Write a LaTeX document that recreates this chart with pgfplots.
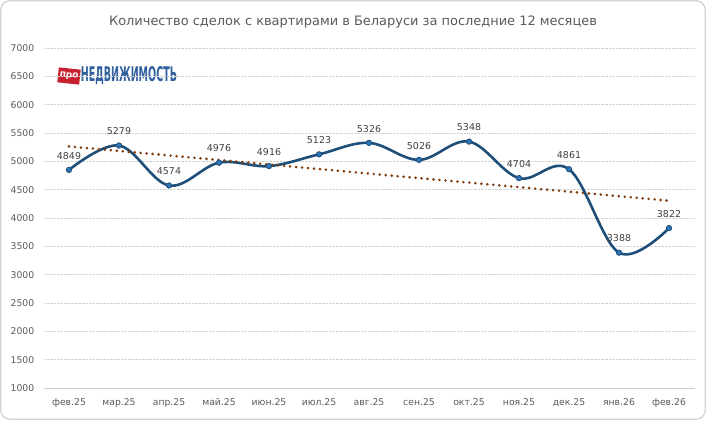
\documentclass[border=0pt]{standalone}
\usepackage{fontspec}
\setmainfont{DejaVu Sans}
\usepackage{graphicx}
\usepackage{pgfplots}
\pgfplotsset{compat=1.18}
\definecolor{lineblue}{HTML}{1F4E79}
\definecolor{markblue}{HTML}{2E75B6}
\definecolor{trendbrown}{HTML}{843C0C}
\definecolor{txtgray}{HTML}{595959}
\definecolor{lblgray}{HTML}{404040}
\definecolor{logored}{HTML}{C8202F}
\definecolor{logoblue}{HTML}{2F5F9E}
\begin{document}
\begin{tikzpicture}[x=1bp,y=1bp]
\useasboundingbox (0,0) rectangle (706,420);
\draw[rounded corners=9bp, draw=gray!35, line width=1.2bp] (0.8,0.8) rectangle (705.2,419.2);
\node[font=\fontsize{13}{15}\selectfont, text=txtgray] at (353,398) {Количество сделок с квартирами в Беларуси за последние 12 месяцев};
% logo
\node[fill=logored, rotate=-6, minimum width=22bp, minimum height=15bp, inner sep=0pt, text=white, font=\bfseries\fontsize{9}{10}\selectfont] at (69,344) {про};
\node[inner sep=0pt, text=logoblue] at (129,344) {\resizebox{96bp}{15bp}{\bfseries НЕДВИЖИМОСТЬ}};
\begin{axis}[
  at={(44bp,32bp)}, anchor=south west,
  scale only axis, width=650bp, height=340bp,
  xmin=-0.5, xmax=12.5, ymin=1000, ymax=7000,
  ytick={1000,1500,...,7000},
  xtick={0,...,12},
  xticklabels={фев.25,мар.25,апр.25,май.25,июн.25,июл.25,авг.25,сен.25,окт.25,ноя.25,дек.25,янв.26,фев.26},
  major x tick style={draw=none},
  extra x ticks={-0.5,0.5,...,12.5},
  extra x tick labels={},
  extra x tick style={major tick length=5bp, tick style={draw=gray!50, line width=0.8bp}, xmajorgrids=false},
  axis x line*=bottom, axis y line*=left,
  x axis line style={draw=gray!40, line width=1bp, -},
  y axis line style={draw=none},
  ytick style={draw=none},
  tick align=outside,
  ymajorgrids, grid style={densely dotted, gray!35, line width=0.6bp},
  tick label style={font=\fontsize{9.3}{11}\selectfont, text=txtgray},
  /pgf/number format/1000 sep={},
  /pgf/number format/assume math mode=true,
  yticklabel style={xshift=-2bp},
  xticklabel style={yshift=-3bp},
  clip=false,
]
\addplot[color=lineblue, line width=2.6bp, smooth, tension=0.6,
  mark=*, mark size=2.7bp, mark options={fill=markblue, draw=lineblue, line width=0.8bp},
  nodes near coords,
  every node near coord/.append style={font=\fontsize{9.5}{11}\selectfont, text=lblgray, yshift=7bp}]
coordinates {(0,4849) (1,5279) (2,4574) (3,4976) (4,4916) (5,5123) (6,5326) (7,5026) (8,5348) (9,4704) (10,4861) (11,3388) (12,3822)};
\addplot[color=trendbrown, line width=2.9bp, dash pattern=on 0pt off 6bp, line cap=round]
coordinates {(0,5263) (12,4305)};
\end{axis}
\end{tikzpicture}
\end{document}
